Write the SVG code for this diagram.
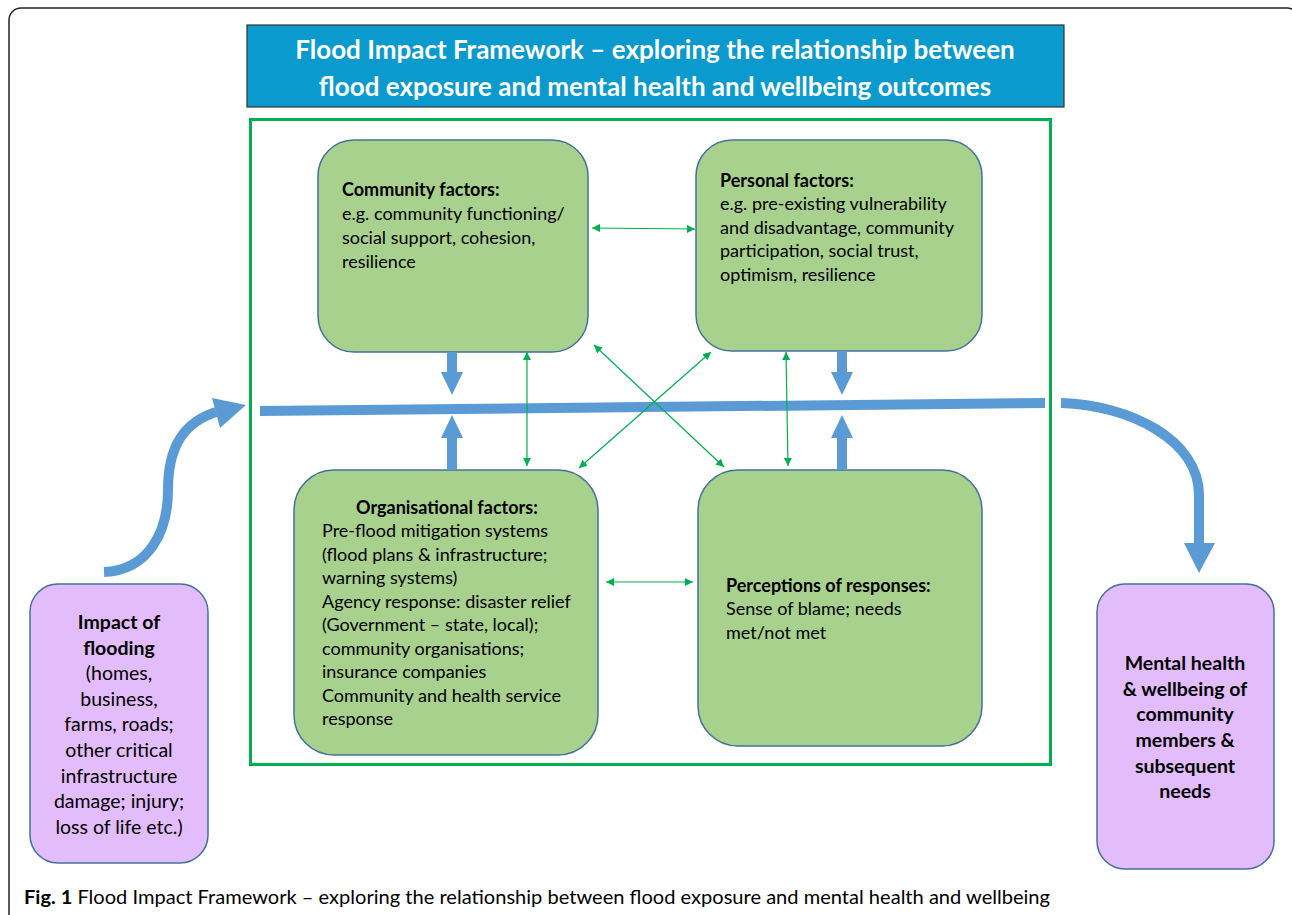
<svg xmlns="http://www.w3.org/2000/svg" width="1292" height="915" viewBox="0 0 1292 915">
<defs>
<style>
text{font-family:Lato,"Open Sans","Liberation Sans",sans-serif;fill:#000;}
.t{font-size:18px;}
.p{font-size:19.5px;}
.b{font-weight:bold;}
.title{font-size:26px;font-weight:bold;fill:#fff;}
.green{fill:#A9D18E;stroke:#41719C;stroke-width:1.5;}
.purple{fill:#E3BCFB;stroke:#41719C;stroke-width:1.5;}
.thin{stroke:#00B050;stroke-width:1.2;fill:none;marker-start:url(#gh);marker-end:url(#gh);}
.blue{fill:#5B9BD5;}
.bluel{stroke:#5B9BD5;stroke-width:10;fill:none;}
</style>
<marker id="gh" viewBox="0 0 10 10" refX="10" refY="5" markerWidth="8" markerHeight="8" markerUnits="userSpaceOnUse" orient="auto-start-reverse">
<path d="M0,0 L10,5 L0,10 z" fill="#00B050"/>
</marker>
</defs>
<rect x="0" y="0" width="1292" height="915" fill="#fff"/>
<rect x="9" y="8" width="1290" height="940" rx="12" fill="none" stroke="#222" stroke-width="1.5"/>

<g id="title">
<rect x="247" y="25" width="817" height="82" fill="#0B9ACD" stroke="#333" stroke-width="1.2"/>
<text class="title" x="655" y="59" text-anchor="middle">Flood Impact Framework – exploring the relationship between</text>
<text class="title" x="655" y="96" text-anchor="middle">flood exposure and mental health and wellbeing outcomes</text>
</g>

<g id="frame">
<rect x="250.5" y="119.5" width="800" height="645" fill="none" stroke="#00B050" stroke-width="3"/>
</g>

<g id="community">
<rect class="green" x="318" y="140" width="270" height="212" rx="36"/>
<text class="t b" x="342" y="196">Community factors:</text>
<text class="t" x="342" y="220">e.g. community functioning/</text>
<text class="t" x="342" y="244">social support, cohesion,</text>
<text class="t" x="342" y="268">resilience</text>
</g>

<g id="personal">
<rect class="green" x="696" y="140" width="286" height="211" rx="36"/>
<text class="t b" x="720" y="187">Personal factors:</text>
<text class="t" x="720" y="210">e.g. pre-existing vulnerability</text>
<text class="t" x="720" y="234">and disadvantage, community</text>
<text class="t" x="720" y="257">participation, social trust,</text>
<text class="t" x="720" y="281">optimism, resilience</text>
</g>

<g id="organisational">
<rect class="green" x="294" y="470" width="304" height="285" rx="40"/>
<text class="t b" x="356" y="514">Organisational factors:</text>
<text class="t" x="322" y="537">Pre-flood mitigation systems</text>
<text class="t" x="322" y="561">(flood plans &amp; infrastructure;</text>
<text class="t" x="322" y="584">warning systems)</text>
<text class="t" x="322" y="608">Agency response: disaster relief</text>
<text class="t" x="322" y="631">(Government – state, local);</text>
<text class="t" x="322" y="655">community organisations;</text>
<text class="t" x="322" y="678">insurance companies</text>
<text class="t" x="322" y="702">Community and health service</text>
<text class="t" x="322" y="725">response</text>
</g>

<g id="perceptions">
<rect class="green" x="698" y="470" width="284" height="276" rx="40"/>
<text class="t b" x="726" y="592">Perceptions of responses:</text>
<text class="t" x="726" y="615">Sense of blame; needs</text>
<text class="t" x="726" y="639">met/not met</text>
</g>

<g id="impact">
<rect class="purple" x="30" y="584" width="178" height="279" rx="28"/>
<g text-anchor="middle">
<text class="p b" x="119" y="629">Impact of</text>
<text class="p b" x="119" y="655">flooding</text>
<text class="p" x="119" y="680">(homes,</text>
<text class="p" x="119" y="706">business,</text>
<text class="p" x="119" y="731">farms, roads;</text>
<text class="p" x="119" y="757">other critical</text>
<text class="p" x="119" y="783">infrastructure</text>
<text class="p" x="119" y="808">damage; injury;</text>
<text class="p" x="119" y="834">loss of life etc.)</text>
</g>
</g>

<g id="mental">
<rect class="purple" x="1097" y="584" width="177" height="285" rx="28"/>
<g text-anchor="middle">
<text class="p b" x="1185" y="670">Mental health</text>
<text class="p b" x="1185" y="696">&amp; wellbeing of</text>
<text class="p b" x="1185" y="721">community</text>
<text class="p b" x="1185" y="747">members &amp;</text>
<text class="p b" x="1185" y="773">subsequent</text>
<text class="p b" x="1185" y="798">needs</text>
</g>
</g>

<g id="connectors">
<polygon class="blue" points="260,406 1045,398 1045,408 260,416"/>
<polygon class="blue" points="447,352 457,352 457,372 463,372 452,395 441,372 447,372"/>
<polygon class="blue" points="447,470 457,470 457,438 463,438 452,415 441,438 447,438"/>
<polygon class="blue" points="837,351 847,351 847,372 853,372 842,395 831,372 837,372"/>
<polygon class="blue" points="837,470 847,470 847,438 853,438 842,415 831,438 837,438"/>
<path class="bluel" d="M104,572 C150,570 168,530 168,490 C168,445 185,422 216,412"/>
<polygon class="blue" points="212,398 246,405 220,428"/>
<path class="bluel" d="M1061,403 C1130,405 1199,440 1199,495 L1199,545"/>
<polygon class="blue" points="1184,543 1215,543 1199,573"/>
<line class="thin" x1="592" y1="228" x2="695" y2="229"/>
<line class="thin" x1="527" y1="352" x2="527" y2="466"/>
<line class="thin" x1="786" y1="352" x2="788" y2="466"/>
<line class="thin" x1="594" y1="345" x2="724" y2="467"/>
<line class="thin" x1="711" y1="352" x2="579" y2="468"/>
<line class="thin" x1="606" y1="582" x2="693" y2="582"/>
</g>

<g id="caption">
<text x="24" y="904" font-size="19" textLength="1026" lengthAdjust="spacingAndGlyphs"><tspan font-weight="bold">Fig. 1</tspan> Flood Impact Framework – exploring the relationship between flood exposure and mental health and wellbeing</text>
</g>
</svg>
